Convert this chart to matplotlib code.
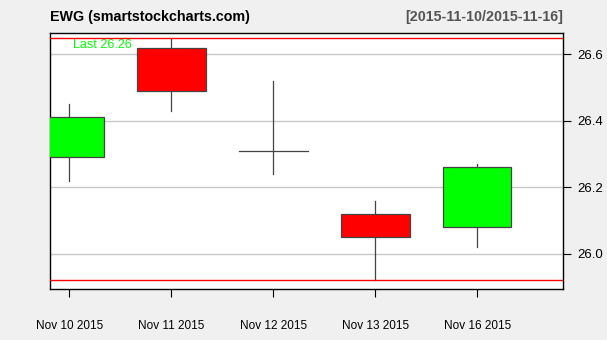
import numpy as np
import matplotlib.pyplot as plt
from matplotlib.patches import Rectangle

plt.rcParams['font.family'] = ['Liberation Sans', 'DejaVu Sans']

dates = ['Nov 10 2015', 'Nov 11 2015', 'Nov 12 2015', 'Nov 13 2015', 'Nov 16 2015']
opens = [26.29, 26.62, 26.31, 26.12, 26.08]
highs = [26.45, 26.65, 26.52, 26.16, 26.27]
lows = [26.22, 26.43, 26.24, 25.92, 26.02]
closes = [26.41, 26.49, 26.31, 26.05, 26.26]
yticks = [26.0, 26.2, 26.4, 26.6]

fig = plt.figure(figsize=(6.07, 3.40), dpi=100, facecolor='#F0F0F0')
ax = fig.add_axes([50/607, 51/340, 513/607, 256/340])
ax.set_facecolor('white')

width = 0.67
edge = '#444444'
for i, (o, h, l, c) in enumerate(zip(opens, highs, lows, closes)):
    ax.plot([i, i], [l, h], color=edge, lw=0.9, zorder=2)
    if o == c:
        ax.plot([i - width/2, i + width/2], [o, o], color=edge, lw=0.9, zorder=3)
    else:
        col = '#00FF00' if c > o else '#FF0000'
        ax.add_patch(Rectangle((i - width/2, min(o, c)), width, abs(c - o),
                               facecolor=col, edgecolor=edge, lw=0.9, zorder=3))

# max high / min low lines
ax.axhline(max(highs), color='#FF0000', lw=1, zorder=4)
ax.axhline(min(lows), color='#FF0000', lw=1, zorder=4)
ax.text(0.04, max(highs) - 0.004, 'Last %.2f' % closes[-1], color='#00FF00',
        fontsize=9, va='top', ha='left')

ax.set_xlim(-0.19, 4.84)
ax.set_ylim(25.894, 26.664)
ax.set_yticks(yticks)
ax.set_yticklabels(['%.1f' % v for v in yticks])
ax.yaxis.tick_right()
ax.grid(axis='y', color='#C8C8C8', lw=1, zorder=0)
ax.set_xticks(np.arange(len(dates)))
ax.set_xticklabels(dates)
ax.tick_params(axis='x', length=6, pad=16, labelsize=8.5)
ax.tick_params(axis='y', length=6, pad=4, labelsize=9.5)
for s in ax.spines.values():
    s.set_linewidth(1)

fig.text(50/607, 1 - 17/340, 'EWG (smartstockcharts.com)', fontsize=10.3,
         fontweight='bold', ha='left', va='center')
fig.text(563/607, 1 - 17/340, '[2015-11-10/2015-11-16]', fontsize=10.3,
         fontweight='bold', ha='right', va='center', color='#555555')

fig.savefig('out.png', dpi=100, facecolor=fig.get_facecolor())
